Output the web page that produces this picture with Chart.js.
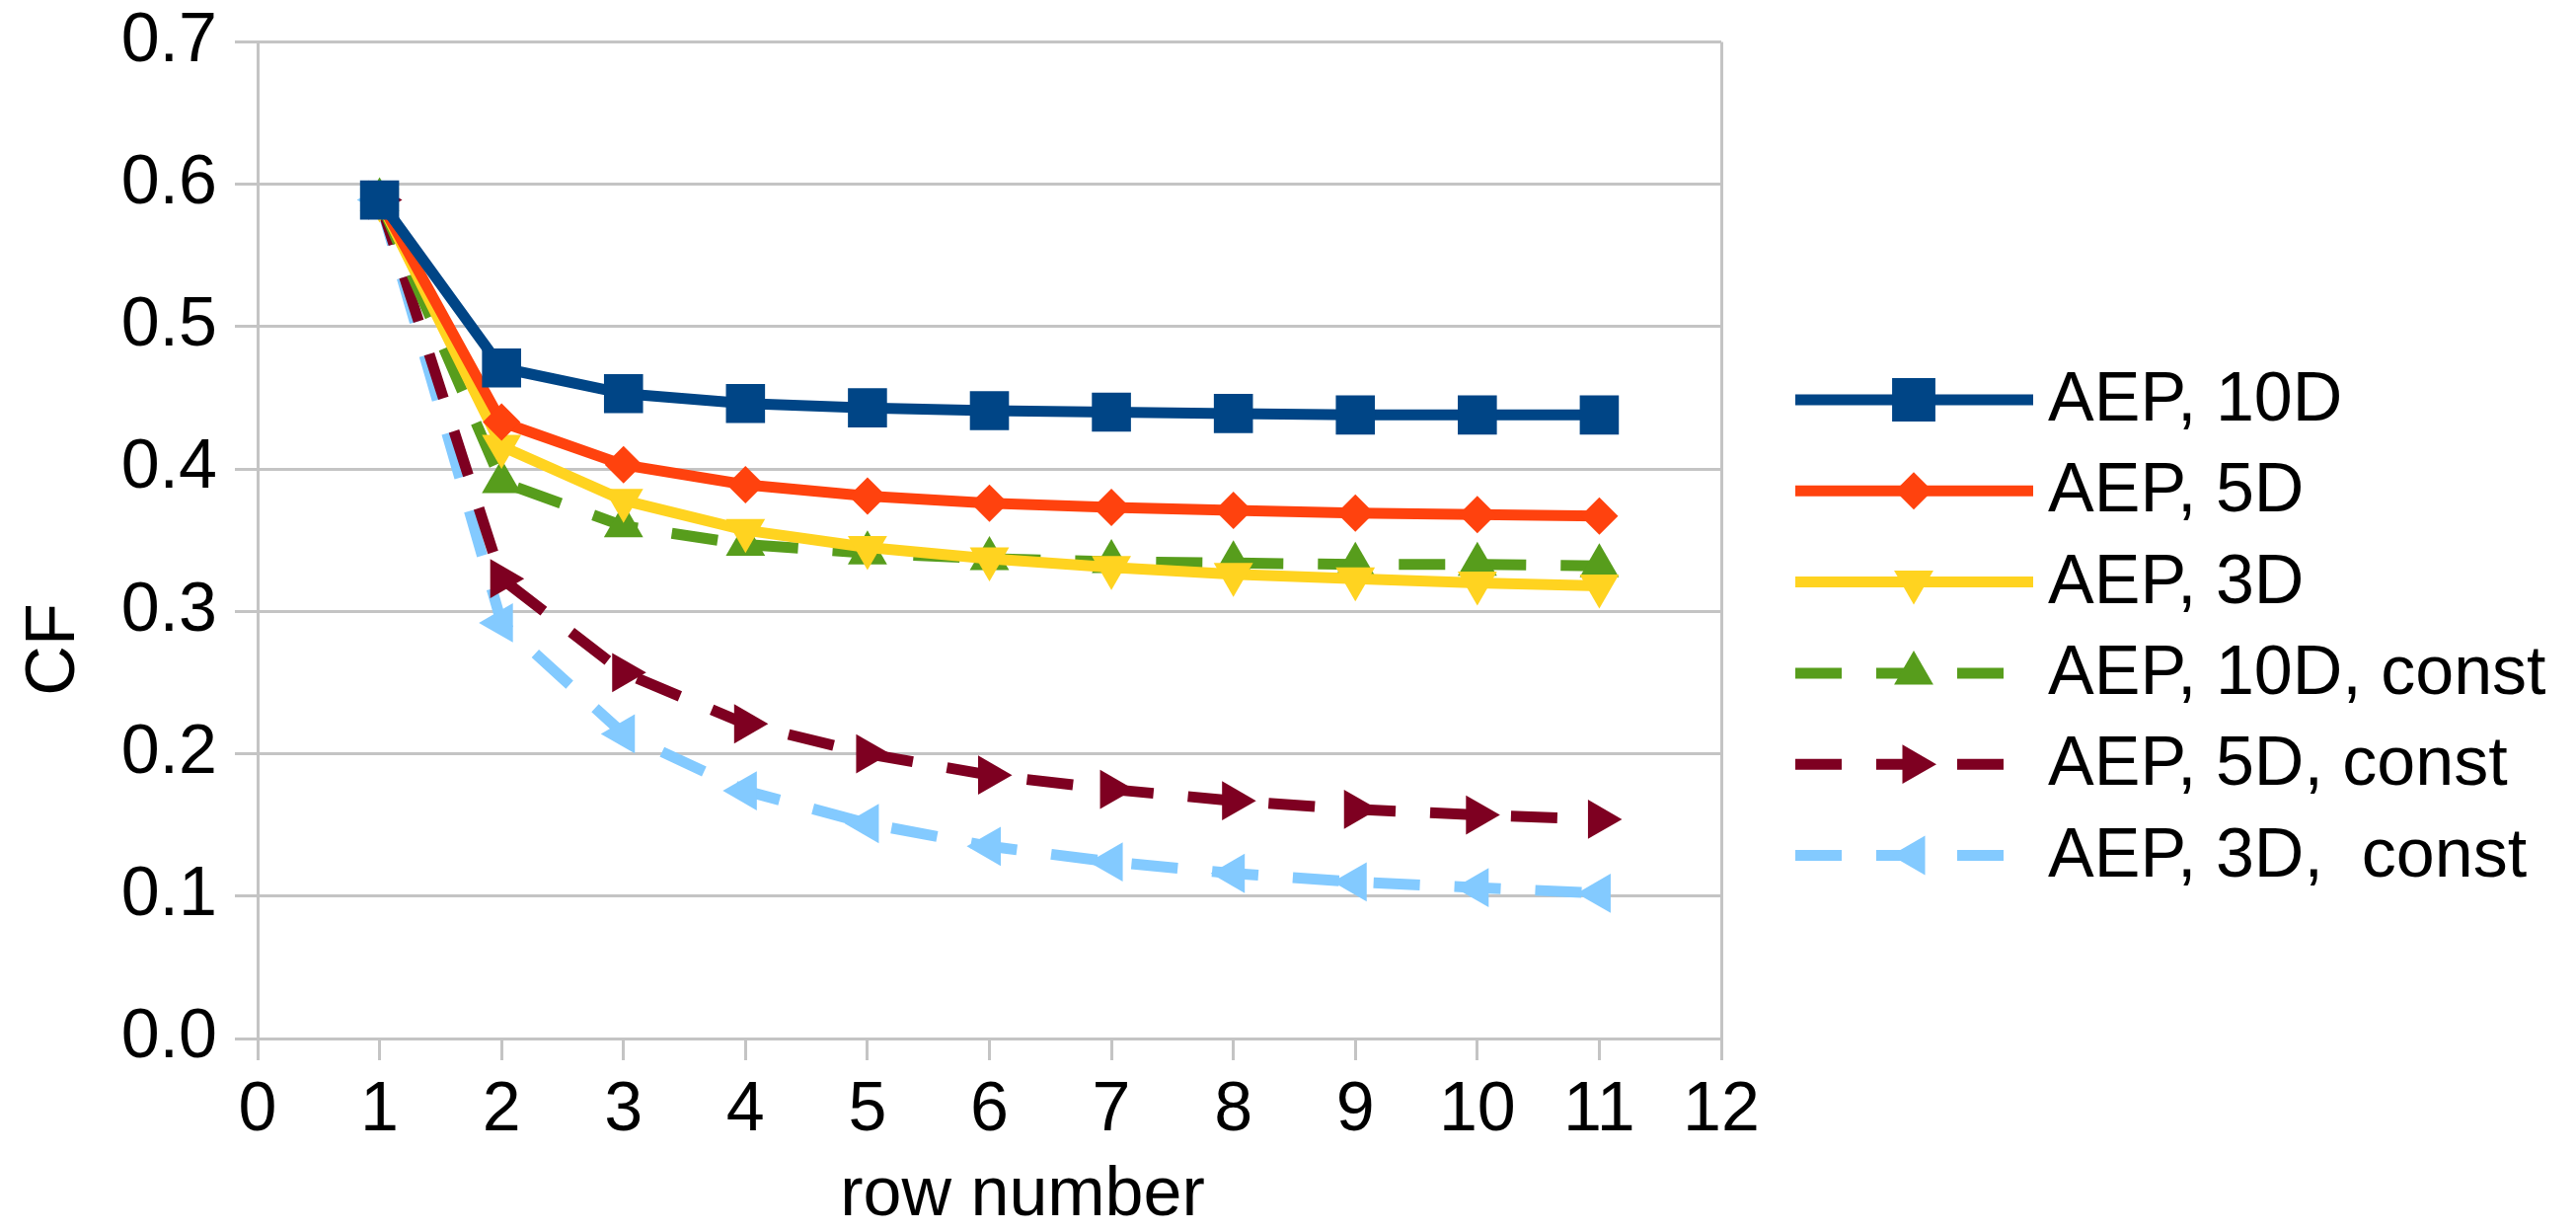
<!DOCTYPE html>
<html>
<head>
<meta charset="utf-8">
<title>CF vs row number</title>
<script src="https://cdn.jsdelivr.net/npm/chart.js@4.4.0/dist/chart.umd.min.js"></script>
<style>
  body { margin: 0; background: #fff; }
  canvas { display: block; }
</style>
</head>
<body>
<canvas id="myChart" width="2610" height="1247"></canvas>
<script>
// data

const rows = [1, 2, 3, 4, 5, 6, 7, 8, 9, 10, 11];

const aep10D = [0.589, 0.471, 0.453, 0.446, 0.443, 0.441, 0.440, 0.439, 0.438, 0.438, 0.438];
const aep5D = [0.589, 0.433, 0.403, 0.389, 0.381, 0.376, 0.373, 0.371, 0.369, 0.368, 0.367];
const aep3D = [0.589, 0.416, 0.378, 0.357, 0.345, 0.337, 0.331, 0.326, 0.323, 0.320, 0.318];
const aep10DConst = [0.589, 0.391, 0.360, 0.347, 0.341, 0.337, 0.335, 0.334, 0.333, 0.333, 0.332];
const aep5DConst = [0.589, 0.323, 0.257, 0.221, 0.200, 0.185, 0.175, 0.167, 0.161, 0.157, 0.154];
const aep3DConst = [0.589, 0.292, 0.214, 0.174, 0.151, 0.135, 0.124, 0.116, 0.110, 0.106, 0.102];

const seriesNames = ["AEP, 10D", "AEP, 5D", "AEP, 3D", "AEP, 10D, const", "AEP, 5D, const", "AEP, 3D,  const"];

const xTickValues = [0, 1, 2, 3, 4, 5, 6, 7, 8, 9, 10, 11, 12];
const yTickValues = [0, 0.1, 0.2, 0.3, 0.4, 0.5, 0.6, 0.7];

const xTitle = "row number";
const yTitle = "CF";

const font = '"Liberation Sans", Arial, sans-serif';
const gridGray = "#c4c4c4";
const dash = [47, 35];

function points(values) {
  return rows.map((r, i) => ({ x: r, y: values[i] }));
}

function series(name, values, color, style, rotation, radius, dashed) {
  return {
    label: name,
    data: points(values),
    borderColor: color,
    backgroundColor: color,
    borderWidth: 11,
    borderDash: dashed ? dash : [],
    borderCapStyle: "butt",
    borderJoinStyle: "round",
    pointStyle: style,
    pointRotation: rotation,
    pointRadius: radius,
    pointBorderWidth: 0,
    pointBackgroundColor: color,
    tension: 0,
  };
}

const datasets = [
  series(seriesNames[0], aep10D, "#004586", "rect", 0, 28, false),
  series(seriesNames[1], aep5D, "#ff420e", "rectRot", 0, 19, false),
  series(seriesNames[2], aep3D, "#ffd320", "triangle", 180, 23, false),
  series(seriesNames[3], aep10DConst, "#579d1c", "triangle", 0, 23, true),
  series(seriesNames[4], aep5DConst, "#7e0021", "triangle", 90, 23, true),
  series(seriesNames[5], aep3DConst, "#83caff", "triangle", 270, 23, true),
];

// axis titles + legend with line and marker
const extras = {
  id: "extras",
  afterDraw(chart) {
    const ctx = chart.ctx;
    ctx.save();
    ctx.fillStyle = "#000";
    ctx.font = "70px " + font;
    ctx.textBaseline = "alphabetic";
    ctx.textAlign = "center";
    ctx.fillText(xTitle, 1036, 1231);

    ctx.save();
    ctx.translate(75, 658);
    ctx.rotate(-Math.PI / 2);
    ctx.fillText(yTitle, 0, 0);
    ctx.restore();

    chart.data.datasets.forEach((ds, i) => {
      const y = 405 + i * 92.3;
      ctx.strokeStyle = ds.borderColor;
      ctx.lineWidth = ds.borderWidth;
      ctx.lineCap = "butt";
      ctx.setLineDash(ds.borderDash);
      ctx.beginPath();
      ctx.moveTo(1819, y);
      ctx.lineTo(2060, y);
      ctx.stroke();
      ctx.setLineDash([]);

      ctx.fillStyle = ds.pointBackgroundColor;
      Chart.helpers.drawPoint(ctx, {
        pointStyle: ds.pointStyle,
        rotation: ds.pointRotation,
        radius: ds.pointStyle === "rect" ? 31 : ds.pointRadius,
        borderWidth: 0,
      }, 1939, y);

      ctx.fillStyle = "#000";
      ctx.textAlign = "left";
      ctx.fillText(ds.label, 2075, y + 21);
    });
    ctx.restore();
  },
};

const ctx = document.getElementById("myChart").getContext("2d");

const myChart = new Chart(ctx, {
  type: "line",
  data: { datasets: datasets },
  options: {
    responsive: false,
    devicePixelRatio: 1,
    animation: false,
    events: [],
    layout: { padding: { left: 0, top: 42, right: 866, bottom: 0 } },
    plugins: {
      legend: { display: false },
      tooltip: { enabled: false },
    },
    scales: {
      x: {
        type: "linear",
        min: 0,
        max: 12,
        afterBuildTicks: (scale) => {
          scale.ticks = xTickValues.map((v) => ({ value: v }));
        },
        afterFit: (scale) => {
          scale.height = 195;
        },
        ticks: {
          color: "#000",
          font: { family: font, size: 70 },
          padding: 10,
          maxRotation: 0,
          autoSkip: false,
        },
        grid: {
          drawOnChartArea: true,
          color: (c) => (c.tick && c.tick.value === 12 ? gridGray : "rgba(0,0,0,0)"),
          tickColor: gridGray,
          tickLength: 22,
          lineWidth: 3,
        },
        border: { display: true, color: gridGray, width: 3 },
      },
      y: {
        min: 0,
        max: 0.7,
        afterBuildTicks: (scale) => {
          scale.ticks = yTickValues.map((v) => ({ value: v }));
        },
        afterFit: (scale) => {
          scale.width = 261;
        },
        ticks: {
          color: "#000",
          font: { family: font, size: 70, lineHeight: 0.7 },
          padding: 18,
          callback: (v) => Number(v).toFixed(1),
        },
        grid: {
          color: gridGray,
          tickColor: gridGray,
          tickLength: 23,
          lineWidth: 3,
        },
        border: { display: true, color: gridGray, width: 3 },
      },
    },
  },
  plugins: [extras],
});
</script>
</body>
</html>
